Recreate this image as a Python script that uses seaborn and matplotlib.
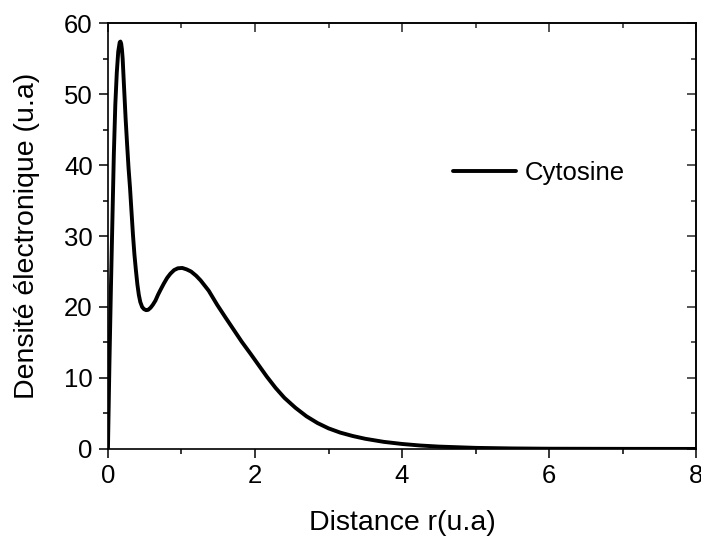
import matplotlib
matplotlib.use("Agg")
import matplotlib.pyplot as plt
from matplotlib.ticker import MultipleLocator
import seaborn as sns
import pandas as pd

r_values = [0, 0.02, 0.04, 0.06, 0.08, 0.10, 0.12, 0.14, 0.16, 0.17, 0.18, 0.19, 0.20,
            0.215, 0.24, 0.26, 0.28, 0.30, 0.315, 0.34, 0.36, 0.38, 0.40, 0.42, 0.44,
            0.465, 0.49, 0.52, 0.547, 0.58, 0.61, 0.646, 0.68, 0.714, 0.76, 0.805, 0.85,
            0.90, 0.95, 1.01, 1.07, 1.13, 1.20, 1.26, 1.37, 1.486, 1.60, 1.71, 1.82, 1.94,
            2.05, 2.16, 2.28, 2.4, 2.55, 2.7, 2.85, 3.0, 3.16, 3.33, 3.5, 3.75, 4.0, 4.25,
            4.5, 5.0, 5.5, 6.0, 7.0, 8.0]
density = [0, 12, 22.5, 32, 41.5, 48.5, 53, 56, 57.3, 57.4, 57.1, 56.3, 55.0,
           51.8, 46.6, 43.0, 39.6, 36.8, 34.3, 30.2, 27.4, 25.2, 23.2, 21.7, 20.7,
           20.0, 19.7, 19.55, 19.6, 19.9, 20.3, 20.9, 21.7, 22.4, 23.3, 24.1, 24.7,
           25.2, 25.45, 25.5, 25.3, 25.0, 24.4, 23.75, 22.3, 20.3, 18.5, 16.8, 15.1, 13.4,
           11.8, 10.2, 8.6, 7.2, 5.8, 4.6, 3.65, 2.9, 2.3, 1.82, 1.43, 1.0, 0.7, 0.48,
           0.33, 0.15, 0.07, 0.03, 0.01, 0.0]
series_name = "Cytosine"

df = pd.DataFrame({"r": r_values, "d": density, "s": series_name})

sns.set_theme(style="white")
plt.rcParams["font.family"] = ["Liberation Sans", "DejaVu Sans"]
plt.rcParams["text.color"] = "black"

fig = plt.figure(figsize=(7.01, 5.37), dpi=100)
ax = fig.add_axes([0.154, 0.164, 0.839, 0.793])

sns.lineplot(data=df, x="r", y="d", hue="s", palette=["black"], linewidth=2.8,
             ax=ax, estimator=None, sort=False)
for ln in ax.lines:
    ln.set_solid_joinstyle("round")

ax.set_xlim(0, 8)
ax.set_ylim(0, 60)
ax.xaxis.set_major_locator(MultipleLocator(2))
ax.xaxis.set_minor_locator(MultipleLocator(1))
ax.yaxis.set_major_locator(MultipleLocator(10))
ax.yaxis.set_minor_locator(MultipleLocator(5))

for sp in ax.spines.values():
    sp.set_visible(True)
    sp.set_color("black")
    sp.set_linewidth(1.2)

ax.tick_params(which="major", direction="out", length=6.5, width=1.1, color="black",
               labelsize=18.5, pad=4.5, bottom=True, left=True, top=False, right=False,
               labelcolor="black")
ax.tick_params(which="minor", direction="out", length=3.6, width=1.1, color="black",
               bottom=True, left=True, top=False, right=False)

secx = ax.secondary_xaxis("top")
secx.xaxis.set_major_locator(MultipleLocator(2))
secx.xaxis.set_minor_locator(MultipleLocator(1))
secx.tick_params(which="major", direction="in", length=6.5, width=1.1, labeltop=False)
secx.tick_params(which="minor", direction="in", length=3.6, width=1.1)
secx.spines["top"].set_linewidth(1.2)

secy = ax.secondary_yaxis("right")
secy.yaxis.set_major_locator(MultipleLocator(10))
secy.yaxis.set_minor_locator(MultipleLocator(5))
secy.tick_params(which="major", direction="in", length=6.5, width=1.1, labelright=False)
secy.tick_params(which="minor", direction="in", length=3.6, width=1.1)
secy.spines["right"].set_linewidth(1.2)

ax.set_xlabel("Distance r(u.a)", fontsize=20.5, labelpad=15.5, color="black")
ax.set_ylabel("Densité électronique (u.a)", fontsize=20.5, labelpad=17, color="black")

leg = ax.legend(loc="center left", bbox_to_anchor=(0.587, 0.648), frameon=False,
                fontsize=18.5, handlelength=2.45, handletextpad=0.32, borderpad=0,
                borderaxespad=0)
for t in leg.get_texts():
    t.set_color("black")

fig.savefig("out.png", dpi=100)
